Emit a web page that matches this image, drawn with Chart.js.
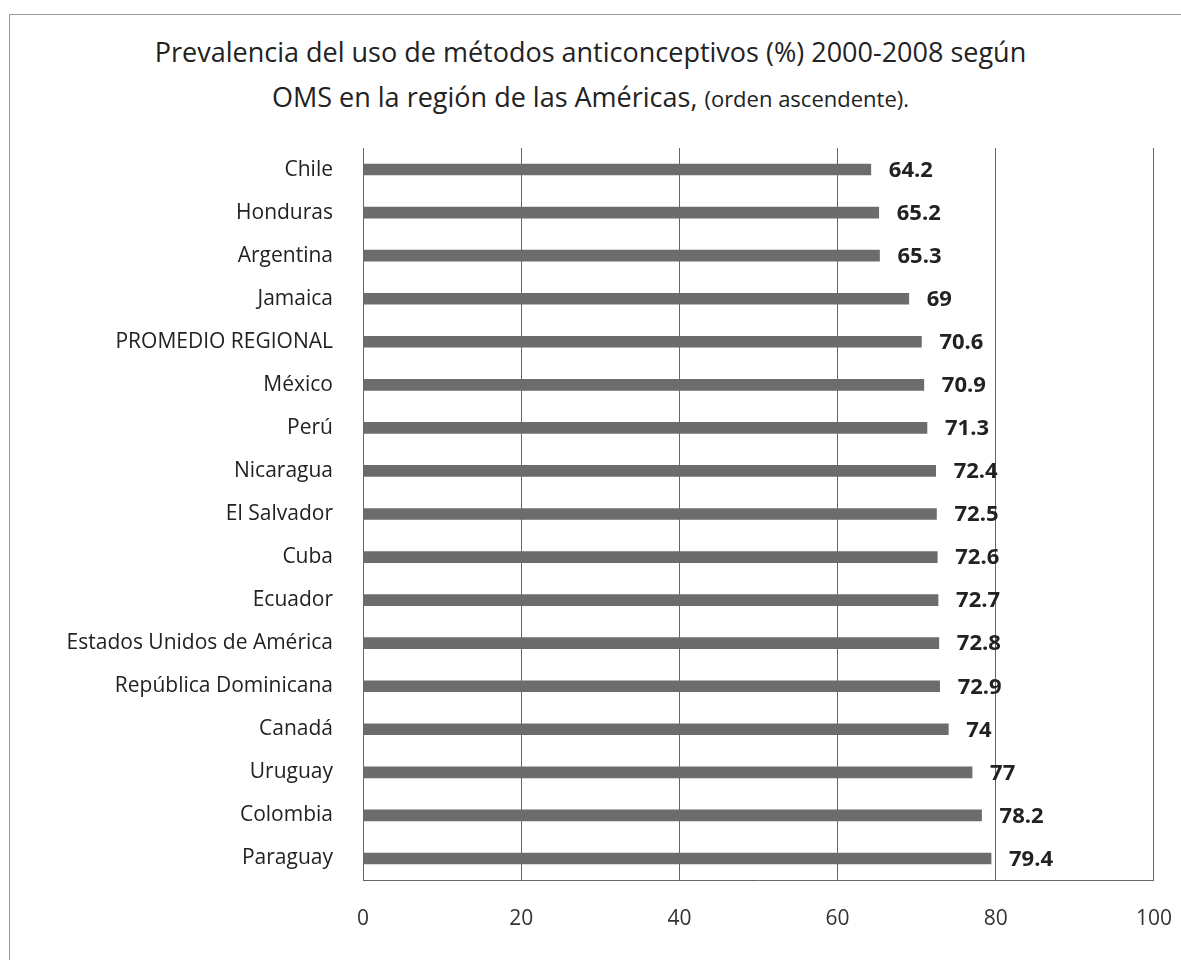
<!DOCTYPE html>
<html lang="es">
<head>
<meta charset="UTF-8">
<title>Prevalencia métodos anticonceptivos</title>
<script src="https://cdn.jsdelivr.net/npm/chart.js"></script>
<style>
  html, body { margin: 0; padding: 0; background: #fff; overflow: hidden; }
  body { width: 1181px; height: 960px; position: relative; font-family: "Open Sans", sans-serif; }
  #frame { position: absolute; left: 9px; top: 14px; width: 1300px; height: 1100px; border: 1px solid #9a9a9a; }
  #title { position: absolute; left: 0; top: 29px; width: 1181px; text-align: center; color: #222; font-size: 27px; line-height: 45px; }
  #title small { font-size: 22px; }
  #wrap { position: absolute; left: 0; top: 0; width: 1198px; height: 960px; }
</style>
</head>
<body>
<div id="frame"></div>
<div id="title">Prevalencia del uso de métodos anticonceptivos (%) 2000-2008 según<br>OMS en la región de las Américas, <small>(orden ascendente).</small></div>
<div id="wrap"><canvas id="chart"></canvas></div>
<script>
const paises = ['Chile', 'Honduras', 'Argentina', 'Jamaica', 'PROMEDIO REGIONAL', 'México', 'Perú',
  'Nicaragua', 'El Salvador', 'Cuba', 'Ecuador', 'Estados Unidos de América', 'República Dominicana',
  'Canadá', 'Uruguay', 'Colombia', 'Paraguay'];
const prevalencia = [64.2, 65.2, 65.3, 69, 70.6, 70.9, 71.3, 72.4, 72.5, 72.6, 72.7, 72.8, 72.9, 74, 77, 78.2, 79.4];
const ticksX = [0, 20, 40, 60, 80, 100];

const fontFam = '"Open Sans", sans-serif';

// etiquetas de valor a la derecha de cada barra
const valueLabels = {
  id: 'valueLabels',
  afterDatasetsDraw(chart) {
    const ctx = chart.ctx;
    const meta = chart.getDatasetMeta(0);
    ctx.save();
    ctx.font = 'bold 22px ' + fontFam;
    ctx.fillStyle = '#222';
    ctx.textBaseline = 'middle';
    ctx.textAlign = 'left';
    meta.data.forEach((bar, i) => {
      ctx.fillText(String(prevalencia[i]), bar.x + 18, bar.y + 1);
    });
    ctx.restore();
  }
};

new Chart(document.getElementById('chart'), {
  type: 'bar',
  data: {
    labels: paises,
    datasets: [{
      data: prevalencia,
      backgroundColor: '#6c6c6c',
      barThickness: 11
    }]
  },
  options: {
    indexAxis: 'y',
    responsive: true,
    maintainAspectRatio: false,
    animation: false,
    layout: { padding: { top: 148, right: 13, left: 0, bottom: 0 } },
    plugins: { legend: { display: false }, tooltip: { enabled: false } },
    scales: {
      x: {
        min: 0, max: 100,
        afterBuildTicks(scale) { scale.ticks = ticksX.map(v => ({ value: v })); },
        afterFit(scale) { scale.height = 80; },
        grid: { color: '#666', lineWidth: 1, drawTicks: false },
        border: { color: '#666', width: 1 },
        ticks: { padding: 26, color: '#333', font: { size: 21, family: fontFam } }
      },
      y: {
        afterFit(scale) { scale.width = 363; },
        grid: { display: false, drawTicks: false },
        border: { color: '#666', width: 1 },
        ticks: { padding: 30, color: '#222', font: { size: 21, family: fontFam } }
      }
    }
  },
  plugins: [valueLabels]
});
</script>
</body>
</html>
